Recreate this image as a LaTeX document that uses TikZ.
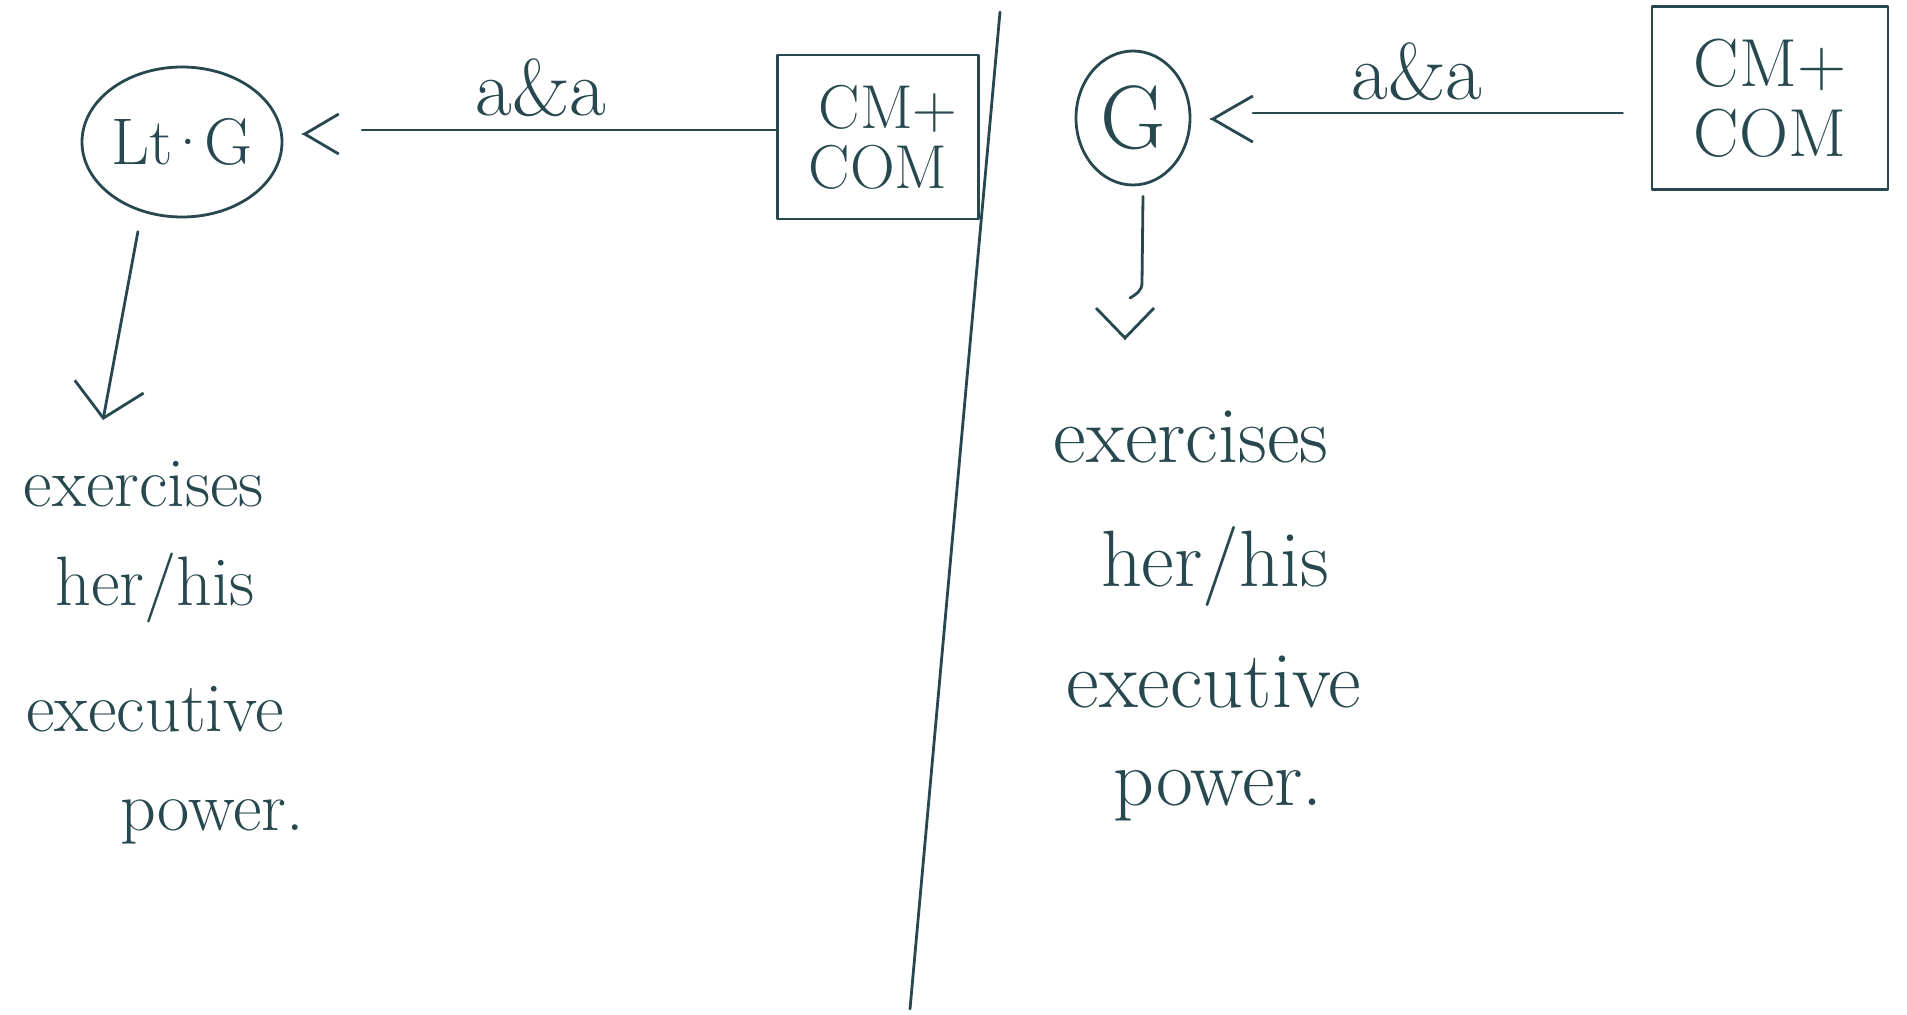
\documentclass[tikz,border=0pt]{standalone}
\usepackage{fontspec}
\usetikzlibrary{arrows.meta,shapes.geometric}
\definecolor{ink}{RGB}{38,72,78}
\begin{document}
\begin{tikzpicture}[x=1pt,y=-1pt,line width=2.8pt,draw=ink,line cap=round,line join=round]
\tikzset{
  bubble/.style={draw=ink,ellipse,inner sep=0pt,text=ink},
  board/.style={draw=ink,rectangle,align=center,inner sep=0pt,text=ink},
  hand/.style={text=ink,inner sep=0pt,anchor=center},
  lbl/.style={hand,font=\fontsize{80}{80}\selectfont},
  para/.style={hand,font=\fontsize{70}{70}\selectfont},
  parb/.style={hand,font=\fontsize{80}{80}\selectfont},
}
\fill[white] (0,0) rectangle (1907,1015);
\useasboundingbox (0,0) rectangle (1907,1015);

% ---------- left half ----------
\node[bubble,minimum width=200pt,minimum height=150pt,font=\fontsize{66}{66}\selectfont] (lg) at (182,142) {Lt\kern-8pt·\kern-8pt G};
\node[board,minimum width=201pt,minimum height=164pt,font=\fontsize{62}{62}\selectfont] (lbox) at (878,137) {\hspace*{20pt}CM+\\[-2pt]COM};
\node[lbl] (aaL) at (541,88) {a\&a};
\coordinate (lEnd) at (362,130);
\coordinate (lTip) at (302,134);
\draw ([yshift=7pt]lbox.west) -- (lEnd);
\draw[-{Straight Barb[length=34pt,width=40pt]}] ([xshift=1pt]lTip) -- (lTip);
\coordinate (ldTip) at (103,420);
\draw[-{Straight Barb[length=32pt,width=70pt]}, shorten <=20pt] (lg.240) -- (ldTip);

\node[para] (l1) at (144,484) {exercises};
\node[para] (l2) at (155,588) {her/his};
\node[para] (l3) at (155,709) {executive};
\node[para] (l4) at (212,822) {power.};

% ---------- divider ----------
\coordinate (dTop) at (1000,12);
\coordinate (dBot) at (910,1009);
\draw (dTop) -- (dBot);

% ---------- right half ----------
\node[bubble,minimum width=114pt,minimum height=134pt,font=\fontsize{90}{90}\selectfont] (rg) at (1133,118) {G};
\node[board,minimum width=236pt,minimum height=183pt,font=\fontsize{68}{68}\selectfont] (rbox) at (1770,98) {CM+\\[2pt]COM};
\node[lbl] (aaR) at (1417,72) {a\&a};
\coordinate (rEnd) at (1253,113);
\coordinate (rTip) at (1210,119);
\draw ([xshift=-28pt,yshift=-15pt]rbox.west) -- (rEnd);
\draw[-{Straight Barb[length=40pt,width=46pt]}] ([xshift=1pt]rTip) -- (rTip);
\coordinate (rHook) at (1130,298);
\draw ([xshift=10pt,yshift=-10pt]rg.south) -- (1142,283) to[out=-90,in=30] (rHook);
\coordinate (rdTip) at (1125,340);
\draw[-{Straight Barb[length=30pt,width=58pt]}] ([yshift=1pt]rdTip) -- (rdTip);

\node[parb] (r1) at (1191,437) {exercises};
\node[parb] (r2) at (1215,566) {her/his};
\node[parb] (r3) at (1214,682) {executive};
\node[parb] (r4) at (1218,796) {power.};
\end{tikzpicture}
\end{document}
